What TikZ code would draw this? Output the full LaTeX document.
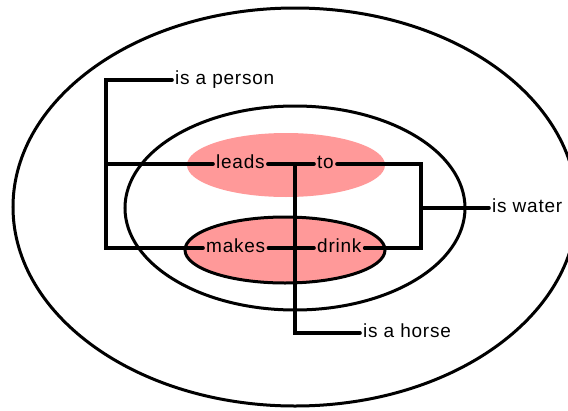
\documentclass[tikz,border=0pt]{standalone}
\usepackage{fontspec}
\setmainfont[LetterSpace=4]{Liberation Sans}
\usepackage{tikz}
\usetikzlibrary{positioning}
\definecolor{cutpink}{RGB}{255,153,153}

\begin{document}
\begin{tikzpicture}[x=1pt,y=-1pt, every node/.style={font=\fontsize{19}{19}\selectfont,inner xsep=3pt,inner ysep=0pt,text height=9.9pt,text depth=0pt,anchor=west},
  ident/.style={line width=3.6pt,line cap=round,line join=miter},
  cut/.style={line width=3pt}]
\useasboundingbox (0,0) rectangle (568,410);
% cuts
\draw[cut] (295,207) ellipse [x radius=282,y radius=199];
\draw[cut] (295,208) ellipse [x radius=170,y radius=102];
\fill[cutpink] (286,165) ellipse [x radius=99,y radius=32];
\draw[cut,fill=cutpink] (285,250) ellipse [x radius=100,y radius=33];
% predicates
\node (person) at (172,80) {is a person};
\node (leads) at (213,164) {leads};
\node (to) at (314,164) {to};
\node (makes) at (203,248) {makes};
\node (drink) at (314,248) {drink};
\node (water) at (489,208) {is water};
\node (horse) at (360,333) {is a horse};
% lines of identity
\coordinate (pl) at (106,80);
\coordinate (ml) at (106,164);
\coordinate (bl) at (106,248);
\coordinate (hv) at (295,164);
\coordinate (rt) at (421,164);
\coordinate (rm) at (421,208);
\coordinate (rb) at (421,248);
\draw[ident] (person.west)--(pl)--(bl)--(makes.west);\draw[ident] (ml)--(leads.west);
\draw[ident] (leads.east)--(to.west);\draw[ident] (hv)|-(horse.west);
\draw[ident] (makes.east)--(drink.west);
\draw[ident] (to.east)--(rt)--(rb)--(drink.east);\draw[ident] (rm)--(water.west);
\end{tikzpicture}
\end{document}
